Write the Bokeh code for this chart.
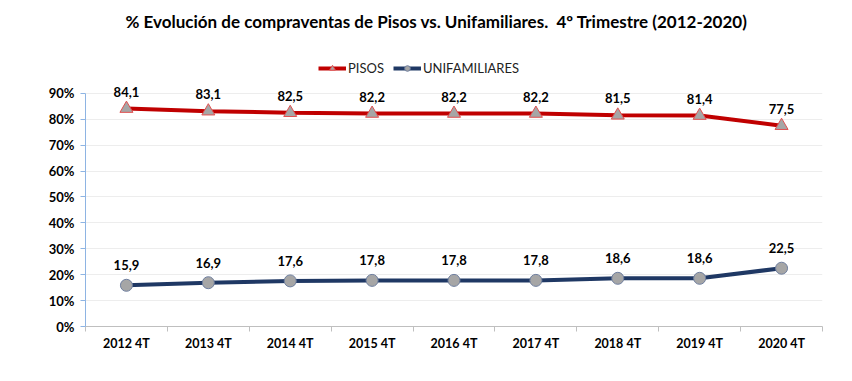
from bokeh.plotting import figure
from bokeh.models import (FixedTicker, PrintfTickFormatter, Legend, LegendItem,
                          Range1d, ColumnDataSource, Title)
from bokeh.core.properties import value
from bokeh.embed import file_html
from bokeh.resources import INLINE

categories = ["2012 4T", "2013 4T", "2014 4T", "2015 4T", "2016 4T",
              "2017 4T", "2018 4T", "2019 4T", "2020 4T"]
pisos = [84.1, 83.1, 82.5, 82.2, 82.2, 82.2, 81.5, 81.4, 77.5]
unifamiliares = [15.9, 16.9, 17.6, 17.8, 17.8, 17.8, 18.6, 18.6, 22.5]
y_ticks = [0, 10, 20, 30, 40, 50, 60, 70, 80, 90]

FONT = "Lato"
xs = [i + 0.5 for i in range(len(categories))]

def fmt(v):
    return f"{v:.1f}".replace(".", ",")

# frame extends above 90% to host the legend; axis/grid stop at 90%
p = figure(width=852, height=381, output_backend="svg", toolbar_location=None,
           x_range=Range1d(0, len(categories)), y_range=Range1d(0, 110.77),
           min_border_left=85, min_border_right=30, min_border_top=38,
           min_border_bottom=55)
p.outline_line_color = None
p.background_fill_color = "white"

# grid
p.xgrid.grid_line_color = None
p.ygrid.grid_line_color = "#EDEDED"
p.ygrid.grid_line_width = 1
p.ygrid.ticker = FixedTicker(ticks=y_ticks)

# y axis
p.yaxis.ticker = FixedTicker(ticks=y_ticks)
p.yaxis.bounds = (0, 90)
p.yaxis.formatter = PrintfTickFormatter(format="%d%%")
p.yaxis.axis_line_color = "#8EB4E3"
p.yaxis.major_tick_line_color = "#8EB4E3"
p.yaxis.major_tick_out = 5
p.yaxis.major_tick_in = 0
p.yaxis.minor_tick_line_color = None
p.yaxis.major_label_text_font = FONT
p.yaxis.major_label_text_font_style = "bold"
p.yaxis.major_label_text_font_size = "13px"
p.yaxis.major_label_text_color = "black"
p.yaxis.major_label_standoff = 6

# x axis
p.xaxis.ticker = FixedTicker(ticks=xs, minor_ticks=list(range(len(categories) + 1)))
p.xaxis.major_label_overrides = {x: c for x, c in zip(xs, categories)}
p.xaxis.axis_line_color = "#BFBFBF"
p.xaxis.major_tick_line_color = None
p.xaxis.major_tick_out = 0
p.xaxis.major_tick_in = 0
p.xaxis.minor_tick_line_color = "#BFBFBF"
p.xaxis.minor_tick_out = 5
p.xaxis.minor_tick_in = 0
p.xaxis.major_label_text_font = FONT
p.xaxis.major_label_text_font_style = "bold"
p.xaxis.major_label_text_font_size = "12.5px"
p.xaxis.major_label_text_color = "black"
p.xaxis.major_label_standoff = 4

src_p = ColumnDataSource(dict(x=xs, y=pisos, lab=[fmt(v) for v in pisos]))
src_u = ColumnDataSource(dict(x=xs, y=unifamiliares, lab=[fmt(v) for v in unifamiliares]))

l1 = p.line("x", "y", source=src_p, line_color="#C00000", line_width=4)
m1 = p.scatter("x", "y", source=src_p, marker="triangle", size=13,
               fill_color="#A6A6A6", line_color="#E05050", line_width=1)
l2 = p.line("x", "y", source=src_u, line_color="#1F3864", line_width=4)
m2 = p.scatter("x", "y", source=src_u, marker="circle", size=12,
               fill_color="#A6A6A6", line_color="#6F7F9F", line_width=1)

p.text("x", "y", text="lab", source=src_p, text_align="center",
       text_baseline="bottom", y_offset=-12, text_font_size="13px",
       text_font_style="bold", text_color="black", text_font=value(FONT))
p.text("x", "y", text="lab", source=src_u, text_align="center",
       text_baseline="bottom", y_offset=-15, text_font_size="13px",
       text_font_style="bold", text_color="black", text_font=value(FONT))

legend = Legend(items=[LegendItem(label="PISOS", renderers=[l1, m1]),
                       LegendItem(label="UNIFAMILIARES", renderers=[l2, m2])],
                orientation="horizontal", location=(233, 250),
                label_text_font=FONT, label_text_font_size="13px",
                label_text_color="#222222", glyph_width=28, glyph_height=14,
                label_height=14, label_standoff=2, spacing=9, padding=0,
                margin=0, background_fill_alpha=0, border_line_color=None)
p.add_layout(legend, "center")

title = Title(text="% Evolución de compraventas de Pisos vs. Unifamiliares.\u00a0 4º Trimestre (2012-2020)",
              text_font=FONT, text_font_size="17px", text_font_style="bold",
              align="left", offset=40, standoff=16, text_color="black")
p.add_layout(title, "above")

open("out.html", "w").write(file_html(p, INLINE))
